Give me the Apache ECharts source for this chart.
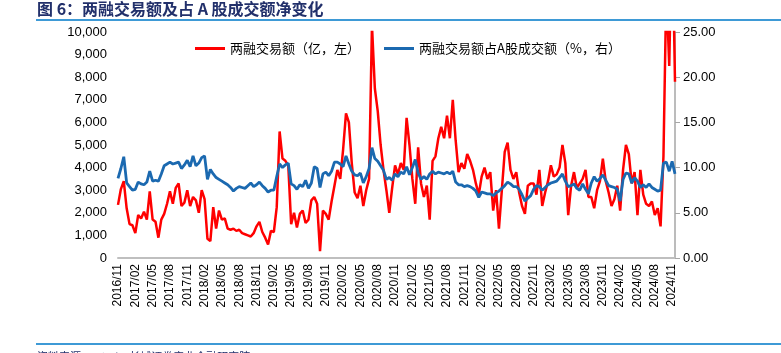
<!DOCTYPE html>
<html>
<head>
<meta charset="utf-8">
<script src="https://cdn.jsdelivr.net/npm/echarts@6/dist/echarts.min.js"></script>
<style>
  html, body { margin: 0; padding: 0; background: #fff; }
  #main { width: 781px; height: 353px; }
</style>
</head>
<body>
<div id="main"></div>
<script>
// 半月度数据, 2016/11 起
var startYear = 2016, startMonth = 11;
var seriesNames = ['两融交易额（亿，左）', '两融交易额占A股成交额（%，右）'];
// 两融交易额 (亿元)
var marginTurnover = [
  2350,3050,3400,2200,1500,1450,1100,1900,1750,2050,
  1700,2950,1700,1600,900,1700,1950,2400,2950,2400,
  3100,3300,2300,2450,3000,2300,2700,2550,2000,3000,
  2600,850,750,2250,1300,2100,1700,1750,1300,1250,
  1300,1200,1250,1100,1050,1000,950,1100,1400,1600,
  1150,900,600,1200,1150,2250,5600,4400,4300,4100,
  1500,2000,1350,1950,2100,1550,1700,2550,2700,2400,
  300,2100,1950,1700,2500,3200,3900,3500,4800,6400,
  6000,4200,2900,2650,3200,2300,3000,3500,10300,7500,
  6500,5000,3900,3000,2000,3100,4100,3700,4200,3900,
  6200,5000,3500,2400,4900,3300,2700,3200,1700,4300,
  4500,5300,5800,5300,6300,5300,7000,5200,3800,4200,
  3950,4600,4300,3900,3300,2800,3600,4000,3500,3800,
  2100,3000,1300,3000,4700,5100,3900,3500,3800,2900,
  2300,1950,3200,3300,3300,2800,3900,2300,2900,3400,
  4100,3600,3700,4000,5000,4200,1900,3200,3800,3100,
  3300,3500,3900,2700,2700,2200,3000,3400,4400,3400,
  2900,2300,2600,3200,2100,3900,5000,4600,3300,3800,
  1900,3900,2800,2400,2300,2500,1900,2200,1400,4500,
  12000,8500,15000,7800
];
// 两融交易额占A股成交额 (%)
var marginShare = [
  8.8,9.9,11.2,8.3,7.9,7.5,7.6,8.4,8.2,8.1,
  8.4,9.6,8.5,8.6,8.5,9.3,10.2,10.4,10.6,10.4,
  10.5,10.6,9.9,10.3,10.8,10.1,11.3,10.2,10.5,11.1,
  11.3,8.7,9.8,9.3,8.9,8.7,8.5,8.3,8.1,7.8,
  7.4,7.7,7.9,7.8,7.7,8.0,8.3,7.9,8.1,8.4,
  8.0,7.7,7.3,7.5,7.5,9.0,10.4,10.0,10.3,10.5,
  8.2,8.0,7.6,8.1,7.9,8.6,7.7,8.3,10.1,9.9,
  7.8,9.3,9.5,9.1,9.6,10.6,10.6,10.4,10.1,11.3,
  10.4,9.6,9.2,9.1,9.4,8.3,9.0,9.9,12.2,11.0,
  10.7,10.2,9.7,8.7,8.9,8.6,9.3,9.0,9.5,9.3,
  10.1,9.2,10.0,10.9,9.4,8.7,9.0,8.7,9.3,9.6,
  9.3,9.5,9.4,9.3,9.5,9.3,9.6,8.4,8.1,8.1,
  7.9,8.0,7.9,7.7,7.4,6.7,7.3,7.2,7.1,7.1,
  6.9,7.2,7.4,7.7,8.0,8.4,8.2,7.9,7.9,7.6,
  7.0,6.3,6.6,6.9,7.6,8.0,7.9,7.5,7.8,8.1,
  8.3,8.4,8.5,8.9,9.3,8.5,7.9,8.0,8.2,7.7,
  7.5,8.2,7.6,7.1,8.3,9.0,8.5,8.8,9.2,8.6,
  8.0,7.9,7.8,7.6,6.3,8.7,9.4,9.3,8.3,8.9,
  8.5,7.8,8.1,7.8,8.2,7.8,7.6,7.4,7.5,10.5,
  10.6,9.6,10.7,9.3
];
var tickMonths = ['02', '05', '08', '11'];

// 日期类目
var dates = [];
for (var i = 0; i < marginTurnover.length; i++) {
  var m = startMonth - 1 + Math.floor(i / 2);
  var y = startYear + Math.floor(m / 12);
  var mm = (m % 12) + 1;
  dates.push(y + '/' + (mm < 10 ? '0' + mm : mm) + '/' + (i % 2 == 0 ? '01' : '15'));
}

var myChart = echarts.init(document.getElementById('main'), null, { renderer: 'canvas' });
var option = {
  animation: false,
  backgroundColor: '#fff',
  textStyle: { fontFamily: 'Liberation Sans, Arial, sans-serif' },
  graphic: [
    {
      type: 'text', left: 37, top: 1,
      style: {
        text: '图 6：两融交易额及占 A 股成交额净变化',
        font: 'bold 16px "Noto Sans CJK SC"',
        fill: '#22306B'
      }
    },
    { type: 'rect', shape: { x: 36, y: 19, width: 745, height: 2 }, style: { fill: '#3E9AD6' } },
    { type: 'rect', shape: { x: 36, y: 343, width: 745, height: 2 }, style: { fill: '#3E9AD6' } },
    {
      type: 'text', left: 37, top: 351,
      style: {
        text: '资料来源：Wind，长城证券产业金融研究院',
        font: '11px "Noto Sans CJK SC"',
        fill: '#22306B'
      }
    }
  ],
  legend: {
    top: 37,
    left: 190,
    icon: 'rect',
    itemWidth: 30,
    itemHeight: 3,
    itemGap: 24,
    textStyle: { fontFamily: 'Noto Sans CJK SC', fontSize: 13, color: '#000' },
    data: seriesNames
  },
  grid: { left: 118, right: 106, top: 32, bottom: 95 },
  xAxis: {
    type: 'category',
    boundaryGap: false,
    data: dates,
    axisLine: { lineStyle: { color: '#BFBFBF', width: 2 } },
    axisTick: { show: false },
    axisLabel: {
      rotate: 90,
      fontSize: 12,
      color: '#000',
      margin: 6,
      interval: function (idx, val) {
        return val.slice(8) == '01' && tickMonths.indexOf(val.slice(5, 7)) >= 0;
      },
      formatter: function (val) { return val.slice(0, 7); }
    }
  },
  yAxis: [
    {
      type: 'value',
      min: 0, max: 10000, interval: 1000,
      axisLine: { show: false },
      axisTick: { show: false },
      splitLine: { show: false },
      axisLabel: {
        fontSize: 13, color: '#000', margin: 11,
        formatter: function (v) { return v.toLocaleString('en-US'); }
      }
    },
    {
      type: 'value',
      min: 0, max: 25, interval: 5,
      axisLine: { show: true, lineStyle: { color: '#A6A6A6', width: 1.5 } },
      axisTick: { show: true, length: 5, lineStyle: { color: '#A6A6A6' } },
      splitLine: { show: false },
      axisLabel: {
        fontSize: 13, color: '#000', margin: 8,
        formatter: function (v) { return v.toFixed(2); }
      }
    }
  ],
  series: [
    {
      name: seriesNames[0],
      type: 'line',
      yAxisIndex: 0,
      data: marginTurnover,
      symbol: 'none',
      clip: true,
      lineStyle: { color: '#FF0000', width: 2.5 },
      itemStyle: { color: '#FF0000' }
    },
    {
      name: seriesNames[1],
      type: 'line',
      yAxisIndex: 1,
      data: marginShare,
      symbol: 'none',
      lineStyle: { color: '#1B69B0', width: 2.8 },
      itemStyle: { color: '#1B69B0' }
    }
  ]
};
myChart.setOption(option);
</script>
</body>
</html>
